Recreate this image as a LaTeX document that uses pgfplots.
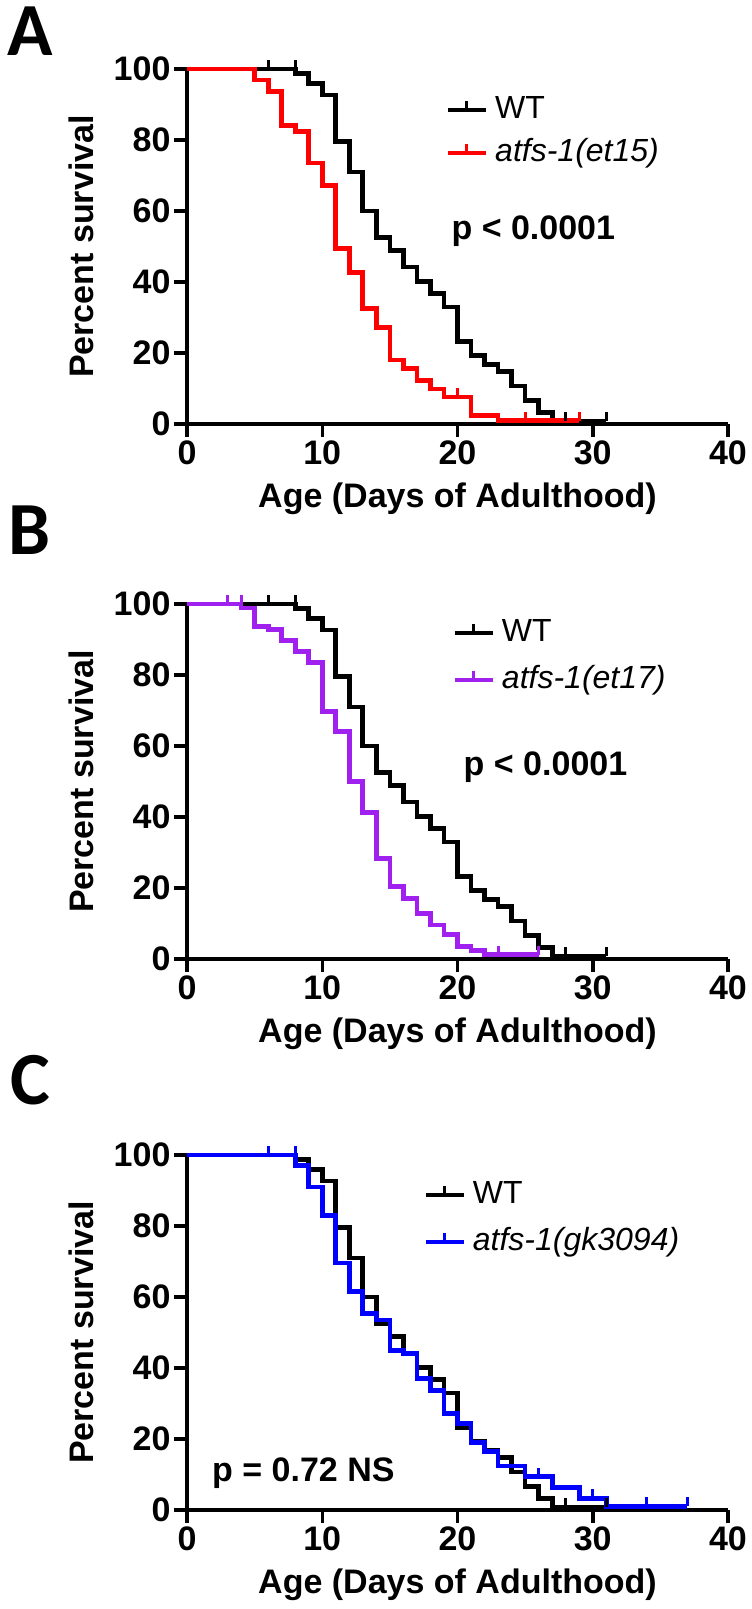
\documentclass[border=0pt]{standalone}
\usepackage{pgfplots}
\pgfplotsset{compat=1.18}
\usepackage{pgfplotstable}
\usepackage{fontspec}
\setmainfont{Liberation Sans}
\newfontfamily\letterfont{Carlito}

\definecolor{myred}{RGB}{255,0,0}
\definecolor{mypurple}{RGB}{160,32,240}
\definecolor{myblue}{RGB}{0,0,255}

\pgfdeclareplotmark{cens}{\pgfpathmoveto{\pgfqpoint{0pt}{0pt}}\pgfpathlineto{\pgfqpoint{0pt}{9pt}}\pgfusepathqstroke}

% WT survival (same in all panels)
\pgfplotstableread{
x y
0 100
8 98.7
9 96
10 92.7
11 79.5
12 71
13 60
14 52.6
15 48.8
16 44.2
17 40.2
18 36.8
19 33
20 23.3
21 19.3
22 16.7
23 14.7
24 10.7
25 6.7
26 3.3
27 0.8
31 0.8
}\wt
\pgfplotstableread{
x y
6 100
8 100
28 0.8
31 0.8
}\wtc

% atfs-1(et15)
\pgfplotstableread{
x y
0 100
5 96.9
6 93.6
7 84
8 82.4
9 73.5
10 67.1
11 49.4
12 42.6
13 32.6
14 27.2
15 18
16 15.6
17 12.3
18 9.9
19 7.6
21 2.4
23 0.9
29 0.9
}\etf
\pgfplotstableread{
x y
20 7.6
25 0.9
29 0.9
}\etfc

% atfs-1(et17)
\pgfplotstableread{
x y
0 100
4 98.9
5 93.7
6 92.8
7 89.8
8 86.7
9 83.6
10 69.8
11 64
12 50.1
13 41.2
14 28.3
15 20.4
16 17
17 12.8
18 9.6
19 7
20 3.6
21 2.4
22 1.2
26 1.2
}\ets
\pgfplotstableread{
x y
3 100
4 100
23 1.2
26 1.2
}\etsc

% atfs-1(gk3094)
\pgfplotstableread{
x y
0 100
8 97
9 91
10 83
11 69.6
12 61.5
13 55.4
14 53.5
15 45
16 44
17 37.1
18 33.7
19 27.1
20 24.3
21 19
22 16.5
23 12.4
25 9.4
27 6.3
29 3.3
31 1
37 1
}\gk
\pgfplotstableread{
x y
6 100
8 100
26 9.4
30 3.3
34 1
37 1
}\gkc

\pgfplotsset{
 km/.style={
  scale only axis, width=541pt, height=355pt,
  xmin=0, xmax=40, ymin=0, ymax=100,
  axis lines*=left,
  axis line style={line width=3.5pt},
  xtick={0,10,...,40}, ytick={0,20,...,100},
  tick align=outside, major tick length=13pt,
  every tick/.style={black, line width=3.5pt},
  tick label style={font=\fontsize{34}{40}\selectfont\bfseries},
  /pgf/number format/assume math mode=true,
  label style={font=\fontsize{34}{40}\selectfont\bfseries},
  xlabel={Age (Days of Adulthood)},
  ylabel={Percent survival},
  xlabel style={at={(axis description cs:0.5,-0.211)}, anchor=center},
  ylabel style={at={(axis description cs:-0.196,0.5)}, anchor=center},
  clip=false,
  legend cell align=left,
  legend image code/.code={\draw[##1] (0pt,0pt)--(38pt,0pt); \draw[##1,line width=3pt] (19pt,0pt)--(19pt,9pt);},
  legend style={draw=none, fill=none, inner sep=0pt, font=\fontsize{32}{38}\selectfont, column sep=7pt, nodes={inner sep=0pt, text height=24pt, text depth=7pt}},
 },
 kmline/.style={const plot, line width=4.7pt, #1, no marks},
 kmcens/.style={only marks, mark=cens, line width=3pt, #1, forget plot},
}

\begin{document}
\begin{tikzpicture}
\useasboundingbox (0,0) rectangle (752pt,-1609pt);

% Panel A
\begin{axis}[km, at={(187pt,-424pt)}, anchor=south west,
  legend style={at={(axis cs:19.1,82.4)}, anchor=west, row sep=12pt}]
\addplot[kmline=black] table {\wt};
\addlegendentry{WT}
\addplot[kmline=myred] table {\etf};
\addlegendentry{\itshape atfs-1(et15)}
\addplot[kmcens=black] table {\wtc};
\addplot[kmcens=myred] table {\etfc};
\node[anchor=base west, font=\fontsize{34}{40}\selectfont\bfseries] at (axis cs:19.3,52.1) {p < 0.0001};
\end{axis}

% Panel B
\begin{axis}[km, at={(187pt,-959pt)}, anchor=south west,
  legend style={at={(axis cs:19.6,85.2)}, anchor=west, row sep=16pt}]
\addplot[kmline=black] table {\wt};
\addlegendentry{WT}
\addplot[kmline=mypurple] table {\ets};
\addlegendentry{\itshape atfs-1(et17)}
\addplot[kmcens=black] table {\wtc};
\addplot[kmcens=mypurple] table {\etsc};
\node[anchor=base west, font=\fontsize{34}{40}\selectfont\bfseries] at (axis cs:20.2,51.8) {p < 0.0001};
\end{axis}

% Panel C
\begin{axis}[km, at={(187pt,-1510pt)}, anchor=south west,
  legend style={at={(axis cs:17.45,82.1)}, anchor=west, row sep=16pt}]
\addplot[kmline=black] table {\wt};
\addlegendentry{WT}
\addplot[kmline=myblue] table {\gk};
\addlegendentry{\itshape atfs-1(gk3094)}
\addplot[kmcens=black] table {\wtc};
\addplot[kmcens=myblue] table {\gkc};
\node[anchor=base west, font=\fontsize{34}{40}\selectfont\bfseries] at (axis cs:1.6,8) {p = 0.72 NS};
\end{axis}

\node[font=\fontsize{75}{80}\selectfont\letterfont\bfseries] at (30pt,-31pt) {A};
\node[font=\fontsize{75}{80}\selectfont\letterfont\bfseries] at (30pt,-530pt) {B};
\node[font=\fontsize{75}{80}\selectfont\letterfont\bfseries] at (30pt,-1080pt) {C};
\end{tikzpicture}
\end{document}
